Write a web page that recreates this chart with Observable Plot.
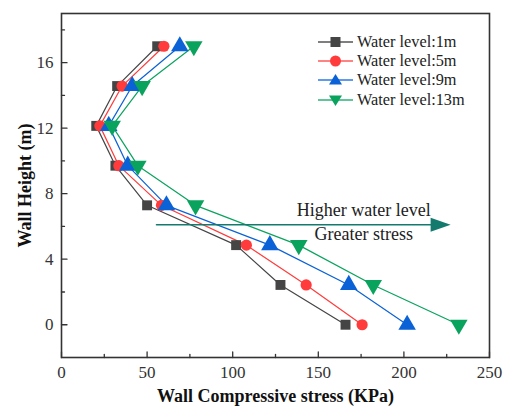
<!DOCTYPE html>
<html>
<head>
<meta charset="utf-8">
<script src="https://cdn.jsdelivr.net/npm/d3@7"></script>
<script src="https://cdn.jsdelivr.net/npm/@observablehq/plot@0.6"></script>
<style>
  body { margin: 0; background: #fff; }
  #wrap { position: relative; width: 505px; height: 413px; font-family: "Liberation Serif", "Tinos", "DejaVu Serif", serif; }
  #wrap svg { display: block; }
  #wrap svg text { font-family: "Liberation Serif", "Tinos", "DejaVu Serif", serif; }
  g[aria-label="x-axis label"] text, g[aria-label="y-axis label"] text { font-weight: bold; font-size: 18px; fill: #111; }
  #legend { position: absolute; left: 318px; top: 32px; font-size: 16.3px; color: #222; }
  #legend .row { display: flex; align-items: center; height: 19.4px; }
  #legend svg { margin-right: 4px; }
</style>
</head>
<body>
<div id="wrap"><div id="legend"></div></div>
<script>
const heights = [0, 2.43, 4.86, 7.29, 9.71, 12.14, 14.57, 17];
const stress1m = [165.9, 127.9, 102.0, 50.0, 31.5, 20.3, 32.5, 55.9];
const stress5m = [175.6, 142.9, 108.0, 58.4, 33.5, 22.4, 35.4, 59.8];
const stress9m = [201.9, 167.8, 121.7, 61.3, 38.7, 27.6, 41.3, 69.1];
const stress13m = [232.1, 182.1, 138.6, 78.3, 44.6, 29.6, 47.1, 77.3];
const seriesNames = ["Water level:1m", "Water level:5m", "Water level:9m", "Water level:13m"];
const seriesColors = ["#454545", "#ff3b3b", "#0a62d6", "#0aa35e"];
const legendLineColors = ["#555555", "#ff5a5a", "#2a78e6", "#2db27a"];
const seriesSymbols = ["square", "circle", "triangle", "triangle"];
const seriesRotate = [0, 0, 0, 180];
const xMajor = [0, 50, 100, 150, 200, 250];
const xMinor = [25, 75, 125, 175, 225];
const yMajor = [0, 4, 8, 12, 16];
const yMinor = [2, 6, 10, 14, 18];
const arrowX = [55.5, 221];
const arrowY = [6.1, 6.1];
const arrowTip = {x: 227.3, y: 6.1};
const annotText = ["Higher water level", "Greater stress"];
const annotX = [176.5, 176.5];
const annotY = [7.0, 5.55];

const allStress = [stress1m, stress5m, stress9m, stress13m];
const series = allStress.map((vals, i) => vals.map((v, j) => ({x: v, y: heights[j], s: seriesNames[i]})));

const tickShape = {draw(context, l) { context.moveTo(0, 0); context.lineTo(0, -l); }};
const headSymbol = {draw(context) { context.moveTo(0, 0); context.lineTo(-20, -7); context.lineTo(-20, 7); context.closePath(); }};
const FONT = "'Liberation Serif', 'Tinos', 'DejaVu Serif', serif";

const marks = [
  Plot.frame({stroke: "#333", strokeWidth: 1.6}),
  Plot.vector(xMajor, {x: d => d, y: -2, length: 5.5, rotate: 0, anchor: "start", shape: tickShape, stroke: "#333", strokeWidth: 1.3}),
  Plot.vector(xMinor, {x: d => d, y: -2, length: 3, rotate: 0, anchor: "start", shape: tickShape, stroke: "#333", strokeWidth: 1.3}),
  Plot.vector(yMajor, {x: 0, y: d => d, length: 5.5, rotate: 90, anchor: "start", shape: tickShape, stroke: "#333", strokeWidth: 1.3}),
  Plot.vector(yMinor, {x: 0, y: d => d, length: 3, rotate: 90, anchor: "start", shape: tickShape, stroke: "#333", strokeWidth: 1.3}),
  Plot.axisX({ticks: xMajor, tickSize: 0, tickPadding: 8, tickFormat: d => d, label: "Wall Compressive stress (KPa)", labelAnchor: "center", labelArrow: "none", labelOffset: 44, fontSize: 17, color: "#333"}),
  Plot.axisY({ticks: yMajor, tickSize: 0, tickPadding: 8, tickFormat: d => d, label: "Wall Height (m)", labelAnchor: "center", labelArrow: "none", labelOffset: 43, fontSize: 17, color: "#333"}),
];
series.forEach((data, i) => {
  marks.push(Plot.line(data, {x: "x", y: "y", stroke: seriesColors[i], strokeWidth: 1.2}));
});
series.forEach((data, i) => {
  marks.push(Plot.dot(data, {x: "x", y: "y", symbol: seriesSymbols[i], rotate: seriesRotate[i], fill: seriesColors[i], stroke: "none", r: seriesSymbols[i] === "triangle" ? 6.5 : 5.6}));
});
marks.push(
  Plot.line(arrowX.map((x, i) => ({x, y: arrowY[i]})), {x: "x", y: "y", stroke: "#157a6e", strokeWidth: 1.6}),
  Plot.dot([arrowTip], {x: "x", y: "y", symbol: headSymbol, fill: "#157a6e", stroke: "none"}),
  Plot.text(annotText.map((t, i) => ({t, x: annotX[i], y: annotY[i]})), {x: "x", y: "y", text: "t", fontSize: 18, fill: "#222", textAnchor: "middle", lineAnchor: "middle"})
);

const chart = Plot.plot({
  width: 505, height: 413,
  marginLeft: 61, marginRight: 16, marginTop: 13, marginBottom: 56,
  x: {domain: [0, 250]},
  y: {domain: [-2, 19]},
  style: {fontFamily: FONT, fontSize: "17px", color: "#333", background: "#fff"},
  marks
});
const wrap = document.getElementById("wrap");
wrap.insertBefore(chart, wrap.firstChild);

const legend = document.getElementById("legend");
seriesNames.forEach((name, i) => {
  const row = document.createElement("div");
  row.className = "row";
  const sym = seriesSymbols[i];
  let shape;
  if (sym === "square") shape = `<rect x="12.5" y="5" width="10" height="10" fill="${seriesColors[i]}"/>`;
  else if (sym === "circle") shape = `<circle cx="17.5" cy="10" r="5.5" fill="${seriesColors[i]}"/>`;
  else if (seriesRotate[i] === 0) shape = `<path d="M17.5,4 L24,14.5 L11,14.5 Z" fill="${seriesColors[i]}"/>`;
  else shape = `<path d="M17.5,16 L24,5.5 L11,5.5 Z" fill="${seriesColors[i]}"/>`;
  row.innerHTML = `<svg width="35" height="20"><line x1="0" x2="35" y1="10" y2="10" stroke="${legendLineColors[i]}" stroke-width="1.4"/>${shape}</svg><span>${name}</span>`;
  legend.appendChild(row);
});
</script>
</body>
</html>
